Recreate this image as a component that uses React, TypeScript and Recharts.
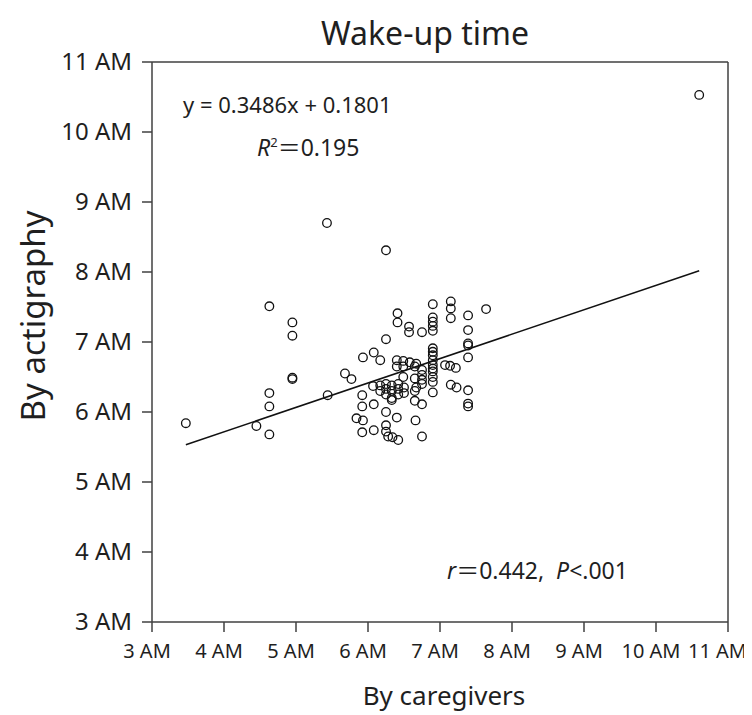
import React from "react";
import { ScatterChart, Scatter, XAxis, YAxis, ReferenceLine, Customized } from "recharts";

// Wake-up time in hours (e.g. 6.5 = 6:30 AM)
const caregiverHours = [
  3.47, 4.45, 4.63, 4.63, 4.63, 4.63, 4.95, 4.95, 4.95, 4.95, 5.43, 5.44, 6.25, 10.6,
  5.68, 5.77, 5.93, 6.08, 6.17, 6.25, 5.92, 6.07, 5.92, 6.08, 5.84, 5.93, 5.92, 6.08,
  6.25, 6.25, 6.25, 6.28, 6.34, 6.42, 6.40, 6.33, 6.33,
  6.17, 6.17, 6.25, 6.25, 6.25, 6.33, 6.33, 6.42, 6.42, 6.42, 6.50, 6.50,
  6.41, 6.41, 6.57, 6.57, 6.75, 6.40, 6.49, 6.58, 6.67, 6.40, 6.49, 6.49,
  6.65, 6.75, 6.75, 6.65, 6.75, 6.65, 6.65, 6.75, 6.66, 6.75, 6.67, 6.75,
  6.90, 6.90, 6.90, 6.90, 6.90, 6.90, 6.90, 6.90, 6.90, 6.90, 6.90, 6.90, 6.90, 6.90, 6.90,
  7.15, 7.15, 7.15, 7.07, 7.14, 7.22, 7.15, 7.23,
  7.39, 7.39, 7.39, 7.39, 7.39, 7.39, 7.39, 7.39, 7.64,
];
const actigraphyHours = [
  5.84, 5.80, 7.51, 6.27, 6.08, 5.68, 7.28, 7.09, 6.49, 6.47, 8.70, 6.24, 8.31, 10.53,
  6.55, 6.47, 6.78, 6.85, 6.74, 7.04, 6.24, 6.37, 6.08, 6.11, 5.91, 5.88, 5.71, 5.74,
  6.00, 5.81, 5.72, 5.65, 5.64, 5.60, 5.92, 6.20, 6.17,
  6.38, 6.30, 6.40, 6.33, 6.25, 6.38, 6.30, 6.40, 6.33, 6.25, 6.35, 6.27,
  7.41, 7.28, 7.22, 7.14, 7.14, 6.74, 6.73, 6.71, 6.69, 6.65, 6.65, 6.50,
  6.65, 6.60, 6.53, 6.48, 6.46, 6.30, 6.16, 6.11, 5.88, 5.65, 6.35, 6.40,
  7.54, 7.35, 7.29, 7.23, 7.16, 6.91, 6.86, 6.81, 6.74, 6.67, 6.62, 6.58, 6.50, 6.43, 6.28,
  7.58, 7.48, 7.34, 6.67, 6.66, 6.63, 6.39, 6.35,
  7.38, 7.17, 6.98, 6.95, 6.78, 6.31, 6.12, 6.08, 7.47,
];
const hourTicks = [3, 4, 5, 6, 7, 8, 9, 10, 11];
const slope = 0.3486;
const intercept = 0.1801; // in fraction of a day
const titleText = "Wake-up time";
const xTitle = "By caregivers";
const yTitle = "By actigraphy";

const data = caregiverHours.map((x, i) => ({ x, y: actigraphyHours[i] }));
const xMin = Math.min(...caregiverHours);
const xMax = Math.max(...caregiverHours);
const fit = (x: number) => (slope * (x / 24) + intercept) * 24;

const FONT = "'Noto Sans', 'Noto Sans CJK JP', sans-serif";
const AXIS = "#404040";
const TEXT = "#1f1f1f";

const fmt = (v: number) => `${v} AM`;

const Circle = (props: any) => (
  <circle cx={props.cx} cy={props.cy} r={4.3} fill="none" stroke="#111" strokeWidth={1.3} />
);

const XTick = (props: any) => {
  const { x, y, payload } = props;
  const last = payload.value === 11;
  return (
    <text
      x={last ? 739 : x - 5}
      y={y + 20}
      textAnchor={last ? "end" : "middle"}
      fontSize={20}
      fontFamily={FONT}
      fill={TEXT}
    >
      {fmt(payload.value)}
    </text>
  );
};

const YTick = (props: any) => {
  const { x, y, payload } = props;
  return (
    <text x={x} y={y + 8} textAnchor="end" fontSize={24} fontFamily={FONT} fill={TEXT}>
      {fmt(payload.value)}
    </text>
  );
};

const Texts = () => (
  <g fontFamily={FONT} fill={TEXT}>
    <text x={417} y={37} fontSize={32} textAnchor="middle">{titleText}</text>
    <text x={436} y={697} fontSize={26} textAnchor="middle">{xTitle}</text>
    <text x={24} y={308} fontSize={33} textAnchor="middle" transform="rotate(-90 24 308)" dominantBaseline="central">{yTitle}</text>
    <text x={175} y={105} fontSize={22}>y = 0.3486x + 0.1801</text>
    <text x={249} y={148} fontSize={23}>
      <tspan fontStyle="italic">R</tspan>
      <tspan fontSize={13} dy={-9}>2</tspan>
      <tspan dy={9}>＝0.195</tspan>
    </text>
    <text x={439} y={571} fontSize={23}>
      <tspan fontStyle="italic">r</tspan>
      <tspan>{"＝0.442,\u00a0\u00a0"}</tspan>
      <tspan fontStyle="italic">P</tspan>
      <tspan>&lt;.001</tspan>
    </text>
  </g>
);

export default function App() {
  return (
    <div style={{ width: 744, height: 707, background: "#fff" }}>
      <ScatterChart width={744} height={707} margin={{ top: 54, right: 24, left: 0, bottom: 0 }}>
        <XAxis
          type="number"
          dataKey="x"
          domain={[3, 11]}
          ticks={hourTicks}
          tickFormatter={fmt}
          height={93}
          tickSize={10}
          tickMargin={6}
          stroke={AXIS}
          strokeWidth={1.5}
          tick={<XTick />}
          interval={0}
          allowDataOverflow
        />
        <YAxis
          type="number"
          dataKey="y"
          domain={[3, 11]}
          ticks={hourTicks}
          tickFormatter={fmt}
          width={144}
          tickSize={10}
          tickMargin={10}
          stroke={AXIS}
          strokeWidth={1.5}
          tick={<YTick />}
          interval={0}
          allowDataOverflow
        />
        <ReferenceLine y={11} stroke={AXIS} strokeWidth={1.5} />
        <ReferenceLine x={11} stroke={AXIS} strokeWidth={1.5} />
        <ReferenceLine
          segment={[{ x: xMin, y: fit(xMin) }, { x: xMax, y: fit(xMax) }]}
          stroke="#111"
          strokeWidth={1.5}
        />
        <Scatter data={data} shape={<Circle />} isAnimationActive={false} />
        <Customized component={<Texts />} />
      </ScatterChart>
    </div>
  );
}
